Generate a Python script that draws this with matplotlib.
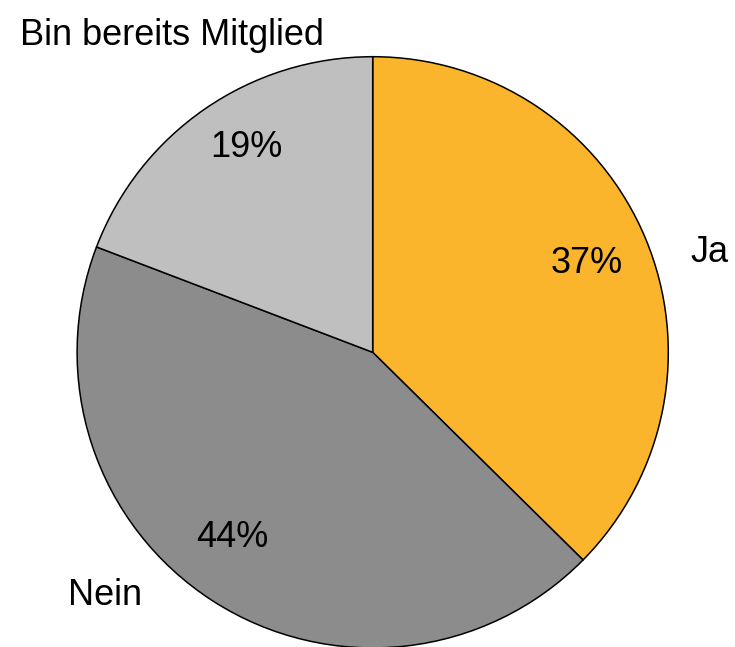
import numpy as np
import matplotlib
matplotlib.use("Agg")
import matplotlib.pyplot as plt

categories = ["Ja", "Nein", "Bin bereits Mitglied"]
values = [37.4, 43.4, 19.2]
pct_labels = ["37%", "44%", "19%"]
colors = ["#FAB52C", "#8C8C8C", "#BFBFBF"]

# label placement (polar, in units of pie radius, text baseline): angle in degrees, radius
cat_label_pos = [(15.0, 1.178), (-136.6, 1.244), (123.1, 1.241)]
pct_label_pos = [(20.3, 0.773), (-125.85, 0.813), (122.9, 0.788)]

plt.rcParams['font.family'] = ['Liberation Sans', 'DejaVu Sans']

W, H = 735, 647
fig = plt.figure(figsize=(W / 100, H / 100), dpi=100)
cx, cy, R = 372.7, 352.3, 295.6
ax = fig.add_axes([(cx - R) / W, (H - cy - R) / H, 2 * R / W, 2 * R / H])

wedges, _ = ax.pie(values, colors=colors, startangle=90, counterclock=False,
                   radius=1, center=(0, 0), frame=False,
                   wedgeprops=dict(edgecolor='black', linewidth=1.1))
ax.set_xlim(-1, 1)
ax.set_ylim(-1, 1)
ax.set_aspect('equal')
ax.axis('off')
for w in wedges:
    w.set_clip_on(False)

FS = 26
for lab, (a, r) in zip(categories, cat_label_pos):
    t = np.deg2rad(a)
    ax.text(r * np.cos(t), r * np.sin(t), lab, ha='center', va='baseline',
            fontsize=FS, color='black', clip_on=False)
for lab, (a, r) in zip(pct_labels, pct_label_pos):
    t = np.deg2rad(a)
    ax.text(r * np.cos(t), r * np.sin(t), lab, ha='center', va='baseline',
            fontsize=FS, color='black', clip_on=False)

fig.savefig("out.png", dpi=100)
